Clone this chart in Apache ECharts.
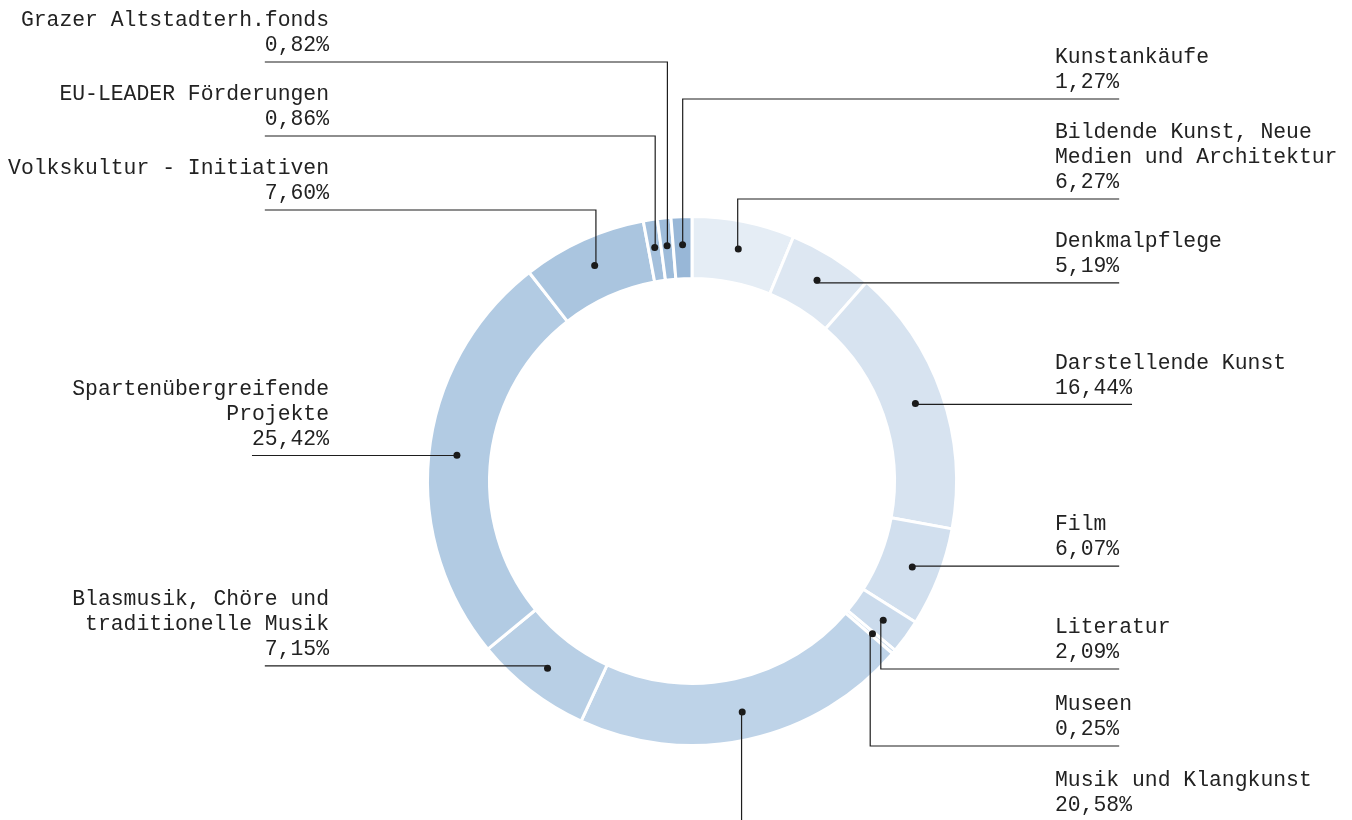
<!DOCTYPE html>
<html>
<head>
<meta charset="utf-8">
<script src="https://cdn.jsdelivr.net/npm/echarts@6/dist/echarts.min.js"></script>
<style>
  html, body { margin: 0; padding: 0; background: #fff; }
  #chart { width: 1352px; height: 820px; }
</style>
</head>
<body>
<div id="chart"></div>
<script>
// ---- data ----
const categories = [
  'Bildende Kunst, Neue\nMedien und Architektur',
  'Denkmalpflege',
  'Darstellende Kunst',
  'Film',
  'Literatur',
  'Museen',
  'Musik und Klangkunst',
  'Blasmusik, Chöre und\ntraditionelle Musik',
  'Spartenübergreifende\nProjekte',
  'Volkskultur - Initiativen',
  'EU-LEADER Förderungen',
  'Grazer Altstadterh.fonds',
  'Kunstankäufe'
];
const shares = [6.27, 5.19, 16.44, 6.07, 2.09, 0.25, 20.58, 7.15, 25.42, 7.60, 0.86, 0.82, 1.27];

// ---- style / layout ----
const palette = ['#e5edf5', '#dde7f2', '#d7e3f0', '#d1dfee', '#cbdbec', '#c5d7ea', '#bed3e8',
                 '#b8cfe5', '#b2cbe3', '#aac5df', '#a4c0dc', '#9ebcda', '#98b7d7'];
const CX = 692, CY = 481, R0 = 202.5, R1 = 264.5, RMID = (R0 + R1) / 2;
const FONT = '"Liberation Mono", "DejaVu Sans Mono", monospace';
const FSIZE = 21.4;
const RIGHT_TEXT_X = 1055, LEFT_TEXT_X = 329;
// label column for each slice (r = right column, l = left column)
const labelSide = ['r', 'r', 'r', 'r', 'r', 'r', 'r', 'l', 'l', 'l', 'l', 'l', 'r'];
// bend height of leader lines for labels stacked above/below the ring
// (null = run straight out horizontally from the dot)
const bendY = [199, null, null, null, 669, 746, 822, null, null, 210, 136, 62, 99];

function fmtPct(v) { return v.toFixed(2).replace('.', ',') + '%'; }

const measureCtx = document.createElement('canvas').getContext('2d');
measureCtx.font = FSIZE + 'px ' + FONT;
function textW(s) { return measureCtx.measureText(s).width; }

const chart = echarts.init(document.getElementById('chart'), null, { renderer: 'canvas' });
chart.setOption({
  backgroundColor: '#ffffff',
  animation: false,
  series: [
    {
      // coloured ring + the dots at the middle of each slice
      type: 'pie',
      z: 2,
      center: [CX, CY],
      radius: [R0, R1],
      startAngle: 90,
      clockwise: true,
      avoidLabelOverlap: false,
      minShowLabelAngle: 0,
      data: categories.map((n, i) => ({ name: n, value: shares[i], itemStyle: { color: palette[i] } })),
      itemStyle: { borderColor: '#ffffff', borderWidth: 3 },
      emphasis: { disabled: true },
      label: {
        show: true,
        position: 'inside',
        formatter: '{d| }',
        rich: { d: { width: 7, height: 7, borderRadius: 3.5, backgroundColor: '#1a1a1a', fontSize: 1, lineHeight: 7 } }
      },
      labelLine: { show: false }
    },
    {
      // transparent twin ring carrying the outside labels and leader lines on top
      type: 'pie',
      z: 5,
      silent: true,
      center: [CX, CY],
      radius: [R0, R1],
      startAngle: 90,
      clockwise: true,
      avoidLabelOverlap: false,
      minShowLabelAngle: 0,
      data: categories.map((n, i) => ({ name: n, value: shares[i] })),
      itemStyle: { color: 'rgba(0,0,0,0)', borderWidth: 0 },
      label: {
        show: true,
        position: 'outside',
        fontFamily: FONT,
        fontSize: FSIZE,
        lineHeight: 25,
        color: '#222222',
        formatter: p => p.name + '\n' + fmtPct(p.value)
      },
      labelLine: {
        show: true,
        length: 10,
        length2: 10,
        smooth: false,
        lineStyle: { color: '#1e1e1e', width: 1.2 }
      },
      labelLayout: function (params) {
        const i = params.dataIndex;
        const p0 = params.labelLinePoints[0];
        const k = RMID / Math.hypot(p0[0] - CX, p0[1] - CY);
        const dx = CX + (p0[0] - CX) * k;
        const dy = CY + (p0[1] - CY) * k;
        const right = labelSide[i] === 'r';
        const ly = bendY[i] == null ? dy : bendY[i];
        const pw = textW(fmtPct(shares[i]));
        const endX = right ? RIGHT_TEXT_X + pw : LEFT_TEXT_X - pw;
        return {
          x: right ? RIGHT_TEXT_X : LEFT_TEXT_X,
          y: ly - 4,
          align: right ? 'left' : 'right',
          verticalAlign: 'bottom',
          labelLinePoints: [[dx, dy], [dx, ly], [endX, ly]]
        };
      }
    }
  ]
});
</script>
</body>
</html>
